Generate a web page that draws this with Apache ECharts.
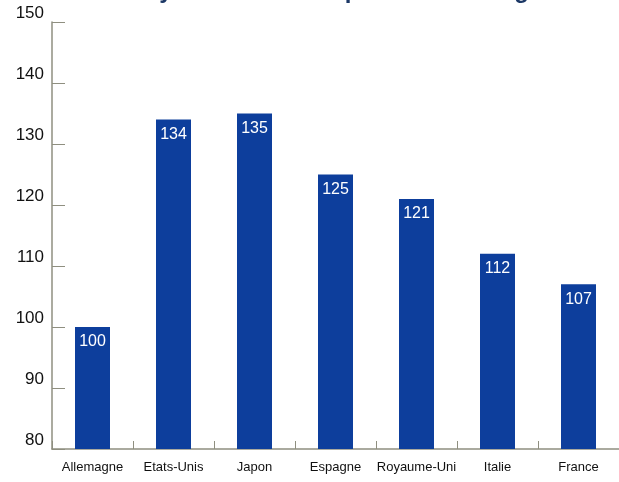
<!DOCTYPE html>
<html>
<head>
<meta charset="utf-8">
<script src="https://cdn.jsdelivr.net/npm/echarts@6/dist/echarts.min.js"></script>
<style>
html,body{margin:0;padding:0;background:#fff;}
#main{width:619px;height:482px;}
</style>
</head>
<body>
<div id="main"></div>
<script>
const categories = ['Allemagne', 'Etats-Unis', 'Japon', 'Espagne', 'Royaume-Uni', 'Italie', 'France'];
const values = [100, 134, 135, 125, 121, 112, 107];
const titleText = 'Coût moyen horaire comparé à l\u2019Allemagne';

const chart = echarts.init(document.getElementById('main'), null, {renderer: 'canvas'});
chart.setOption({
  animation: false,
  backgroundColor: '#ffffff',
  graphic: [{
    type: 'text',
    left: 62,
    top: -21,
    style: {
      text: titleText,
      font: 'bold 24px "Liberation Sans", Arial, sans-serif',
      fill: '#1c3866'
    }
  }],
  grid: {left: 52, right: -4, top: 22, bottom: 33, containLabel: false},
  xAxis: {
    type: 'category',
    data: categories,
    axisLine: {lineStyle: {color: '#8f8f80', width: 1.5}},
    axisTick: {show: true, inside: true, length: 8, interval: 0, lineStyle: {color: '#8f8f80'}},
    axisLabel: {interval: 0, color: '#111', fontSize: 13, fontFamily: '"Liberation Sans Narrow", "Liberation Sans", Arial, sans-serif', margin: 12}
  },
  yAxis: {
    type: 'value',
    min: 80,
    max: 150,
    interval: 10,
    axisLine: {show: true, lineStyle: {color: '#8f8f80', width: 1.5}},
    axisTick: {show: true, inside: true, length: 13, lineStyle: {color: '#8f8f80'}},
    splitLine: {show: false},
    axisLabel: {color: '#111', fontSize: 17, fontFamily: '"Liberation Sans", Arial, sans-serif', margin: 8, verticalAlign: 'bottom'}
  },
  series: [{
    type: 'bar',
    data: values,
    barWidth: 35,
    itemStyle: {color: '#0d3e9c'},
    label: {
      show: true,
      position: 'insideTop',
      distance: 7,
      color: '#ffffff',
      fontSize: 16,
      fontFamily: '"Liberation Sans", Arial, sans-serif'
    }
  }]
});
</script>
</body>
</html>
